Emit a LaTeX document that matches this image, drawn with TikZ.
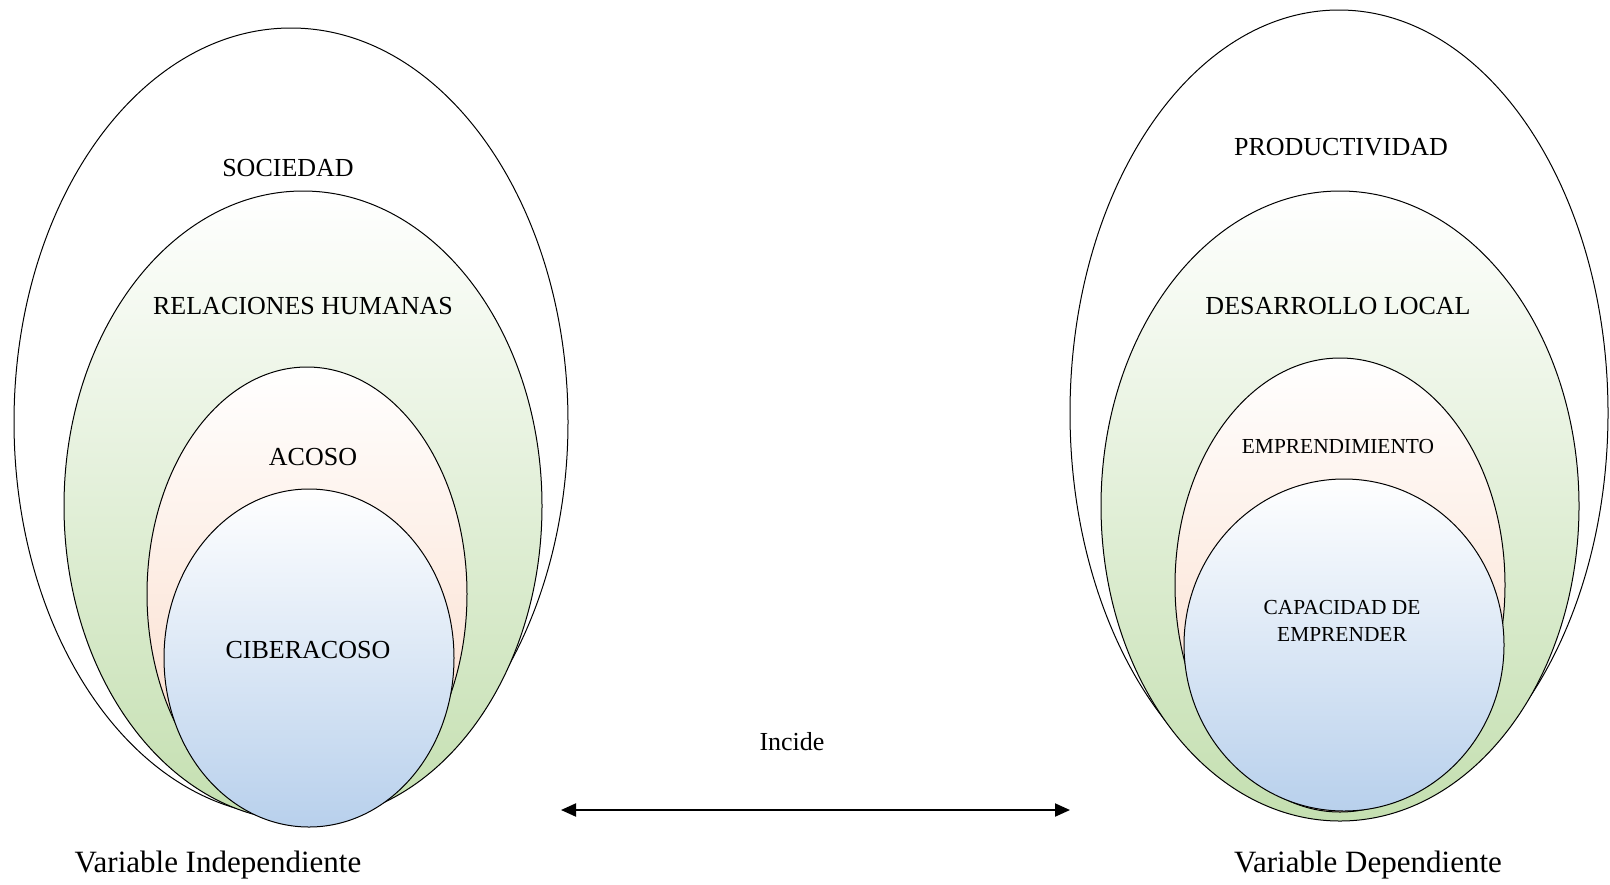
\documentclass[tikz,border=0pt]{standalone}
\usepackage{fontspec}
\setmainfont{Liberation Serif}
\usetikzlibrary{arrows.meta}

\definecolor{ringgreen}{RGB}{196,223,176}
\definecolor{ringpeach}{RGB}{250,216,196}
\definecolor{ringblue}{RGB}{184,208,236}

\begin{document}
\begin{tikzpicture}[x=0.5pt,y=0.5pt,yscale=-1,xscale=1,
  ring/.style={draw=black,line width=0.5pt},
  greenring/.style={ring,top color=white,bottom color=ringgreen},
  peachring/.style={ring,top color=white,bottom color=ringpeach},
  bluering/.style={ring,top color=white,bottom color=ringblue},
  lbl/.style={inner sep=0.75pt,font=\fontsize{13}{15}\selectfont},
  smalllbl/.style={inner sep=0.75pt,align=center,font=\fontsize{10.7}{13.3}\selectfont},
  varlbl/.style={inner sep=0.75pt,font=\fontsize{15.5}{18}\selectfont}]
\useasboundingbox (0,0) rectangle (1610,884);

%Shape: Ellipse [left outer]
\draw [ring] (291,422) ellipse [x radius=277, y radius=394];
%Shape: Ellipse [left green]
\path [greenring] (303,506) ellipse [x radius=239, y radius=315];
%Shape: Ellipse [left peach]
\path [peachring] (307,594) ellipse [x radius=160, y radius=227];
%Shape: Ellipse [left blue]
\path [bluering] (309,658) ellipse [x radius=145, y radius=169];

%Shape: Ellipse [right outer]
\draw [ring] (1339,413) ellipse [x radius=269, y radius=403];
%Shape: Ellipse [right green]
\path [greenring] (1340,506) ellipse [x radius=239, y radius=315];
%Shape: Ellipse [right peach]
\path [peachring] (1340,585) ellipse [x radius=165, y radius=227];
%Shape: Ellipse [right blue]
\path [bluering] (1344,645) ellipse [x radius=160, y radius=166];

% Text Node
\node [lbl] (soc) at (288,168) {SOCIEDAD};
% Text Node
\node [lbl] (relh) at (303,306) {RELACIONES HUMANAS};
% Text Node
\node [lbl] (acoso) at (313,457) {ACOSO};
% Text Node
\node [lbl] (cyber) at (308,650) {CIBERACOSO};
% Text Node
\node [varlbl] (varind) at (218,865) {Variable Independiente};

% Text Node
\node [lbl] (prod) at (1341,147) {PRODUCTIVIDAD};
% Text Node
\node [lbl] (desloc) at (1338,306) {DESARROLLO LOCAL};
% Text Node
\node [smalllbl] (empr) at (1338,447) {EMPRENDIMIENTO};
% Text Node
\node [smalllbl] (capac) at (1342,621) {CAPACIDAD DE\\EMPRENDER};
% Text Node
\node [varlbl] (vardep) at (1368,865) {Variable Dependiente};

%Straight Lines [incide arrow]
\coordinate (arrL) at (561,810);
\coordinate (arrR) at (1070,810);
\draw [line width=1pt,{Triangle[length=7.5pt,width=6.5pt]}-{Triangle[length=7.5pt,width=6.5pt]}] (arrL) -- (arrR);
% Text Node
\node [lbl] (incide) at (792,742) {Incide};

\end{tikzpicture}
\end{document}
